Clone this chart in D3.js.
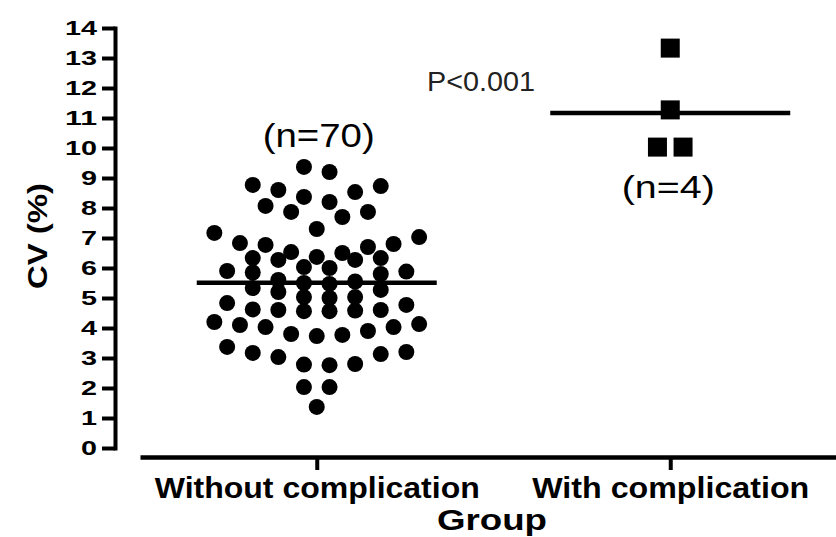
<!DOCTYPE html>
<html>
<head>
<meta charset="utf-8">
<script src="https://cdn.jsdelivr.net/npm/d3@7"></script>
<style>
  body { margin: 0; background: #fff; }
  svg { display: block; font-family: "Liberation Sans", Arial, sans-serif; }
</style>
</head>
<body>
<div id="app"></div>
<script>
const groups = ['Without complication', 'With complication'];
// CV (%) per patient
const withoutValues = [
  9.37, 9.2, 8.77, 8.73, 8.6, 8.53, 8.37, 8.2, 8.07, 7.87, 7.87, 7.7, 7.3, 7.17, 7.03,
  6.83, 6.8, 6.77, 6.7, 6.53, 6.5, 6.37, 6.33, 6.33, 6.27, 6.27, 6.03, 6.0, 5.9, 5.88,
  5.85, 5.8, 5.6, 5.55, 5.5, 5.47, 5.33, 5.27, 5.2, 5.03, 5.03, 5.0, 4.83, 4.77, 4.62,
  4.6, 4.6, 4.58, 4.56, 4.56, 4.2, 4.13, 4.1, 4.03, 4.03, 3.9, 3.8, 3.77, 3.73, 3.37,
  3.2, 3.17, 3.13, 3.03, 2.8, 2.78, 2.76, 2.03, 2.03, 1.37,
];
const withValues = [13.33, 11.27, 10.03, 10.03];
const yTicks = d3.range(0, 15);
const pText = 'P<0.001';

const width = 836;
const height = 537;
const dotR = 8;
const squareSize = 19;
const slotStep = 25.6; // horizontal distance between neighbours in a row
const binWidth = 0.9;
const binBase = 0.05;
const maxRow = 9;
const meanHalf = 120;
const axisStroke = 4;
const ink = '#000';

const svg = d3.select('#app')
  .append('svg')
  .attr('width', width)
  .attr('height', height);

const yScale = d3.scaleLinear()
  .domain([0, 14])
  .range([448, 28]);

const xScale = d3.scalePoint()
  .domain(groups)
  .range([140, 847])
  .padding(0.5);

// prism-like scatter: bin values, spread each row from the centre outwards
function swarm(values) {
  const pts = values.map(v => ({ v }));
  const bins = d3.groups(pts, d => Math.floor((d.v - binBase) / binWidth));
  const out = [];
  bins.forEach(([, binPts]) => {
    binPts.sort((a, b) => a.v - b.v);
    const nRows = Math.ceil(binPts.length / maxRow);
    const per = nRows > 1 ? Math.ceil(binPts.length / nRows / 2) * 2 : binPts.length;
    for (let s = 0; s < binPts.length; s += per) {
      const row = binPts.slice(s, s + per);
      const n = row.length;
      row.forEach((p, k) => {
        let slot;
        if (n % 2) {
          slot = k === 0 ? 0 : Math.ceil(k / 2) * (k % 2 ? 1 : -1);
        } else {
          const m = Math.floor(k / 2) + 0.5;
          slot = k % 2 === 0 ? m : -m;
        }
        out.push({ v: p.v, dx: slot * slotStep });
      });
    }
  });
  return out;
}

function stretch(sel, len) {
  sel.attr('textLength', len).attr('lengthAdjust', 'spacingAndGlyphs');
}

// y axis
const yAxis = svg.append('g')
  .attr('transform', 'translate(115,0)')
  .call(d3.axisLeft(yScale).tickValues(yTicks).tickSize(13).tickSizeOuter(0).tickPadding(5));
yAxis.select('.domain').attr('stroke', ink).attr('stroke-width', axisStroke).attr('stroke-linecap', 'square');
yAxis.selectAll('.tick line').attr('stroke', ink).attr('stroke-width', axisStroke);
yAxis.selectAll('.tick text')
  .attr('fill', ink)
  .attr('font-size', 21)
  .attr('font-weight', 'bold')
  .attr('font-family', '"Liberation Sans", Arial, sans-serif')
  .each(function (d) { stretch(d3.select(this), String(d).length * 16); });

// x axis
const xAxis = svg.append('g')
  .attr('transform', 'translate(0,457)')
  .call(d3.axisBottom(xScale).tickSize(13).tickSizeOuter(0));
xAxis.select('.domain').attr('stroke', ink).attr('stroke-width', axisStroke + 0.5);
xAxis.selectAll('.tick line').attr('stroke', ink).attr('stroke-width', axisStroke);
xAxis.selectAll('.tick text')
  .attr('fill', ink)
  .attr('y', 41)
  .attr('dy', 0)
  .attr('font-size', 29)
  .attr('font-weight', 'bold')
  .attr('font-family', '"Liberation Sans", Arial, sans-serif')
  .each(function (d) { stretch(d3.select(this), d === groups[0] ? 325 : 277); });

// axis titles
svg.append('text')
  .attr('transform', 'translate(47,236) rotate(-90)')
  .attr('text-anchor', 'middle')
  .attr('font-size', 28)
  .attr('font-weight', 'bold')
  .attr('fill', ink)
  .text('CV (%)')
  .call(stretch, 106);

svg.append('text')
  .attr('x', 492)
  .attr('y', 530)
  .attr('text-anchor', 'middle')
  .attr('font-size', 29)
  .attr('font-weight', 'bold')
  .attr('fill', ink)
  .text('Group')
  .call(stretch, 110);

// group 1 dots
const x0 = xScale(groups[0]);
svg.append('g')
  .selectAll('circle')
  .data(swarm(withoutValues))
  .join('circle')
  .attr('cx', d => x0 + d.dx)
  .attr('cy', d => yScale(d.v))
  .attr('r', dotR)
  .attr('fill', ink);

// group 2 squares
const x1 = xScale(groups[1]);
svg.append('g')
  .selectAll('rect')
  .data(swarm(withValues))
  .join('rect')
  .attr('x', d => x1 + d.dx - squareSize / 2)
  .attr('y', d => yScale(d.v) - squareSize / 2)
  .attr('width', squareSize)
  .attr('height', squareSize)
  .attr('fill', ink);

// mean lines
[[groups[0], withoutValues], [groups[1], withValues]].forEach(([g, vals]) => {
  const m = d3.mean(vals);
  svg.append('line')
    .attr('x1', xScale(g) - meanHalf)
    .attr('x2', xScale(g) + meanHalf)
    .attr('y1', yScale(m))
    .attr('y2', yScale(m))
    .attr('stroke', ink)
    .attr('stroke-width', 4.5);
});

// annotations
svg.append('text')
  .attr('x', x0 + 2)
  .attr('y', 147)
  .attr('text-anchor', 'middle')
  .attr('font-size', 34)
  .attr('fill', ink)
  .text(`(n=${withoutValues.length})`)
  .call(stretch, 112);

svg.append('text')
  .attr('x', x1 - 2)
  .attr('y', 198)
  .attr('text-anchor', 'middle')
  .attr('font-size', 32)
  .attr('fill', ink)
  .text(`(n=${withValues.length})`)
  .call(stretch, 93);

svg.append('text')
  .attr('x', 427)
  .attr('y', 91)
  .attr('font-size', 27)
  .attr('fill', '#222')
  .text(pText)
  .call(stretch, 108);
</script>
</body>
</html>
